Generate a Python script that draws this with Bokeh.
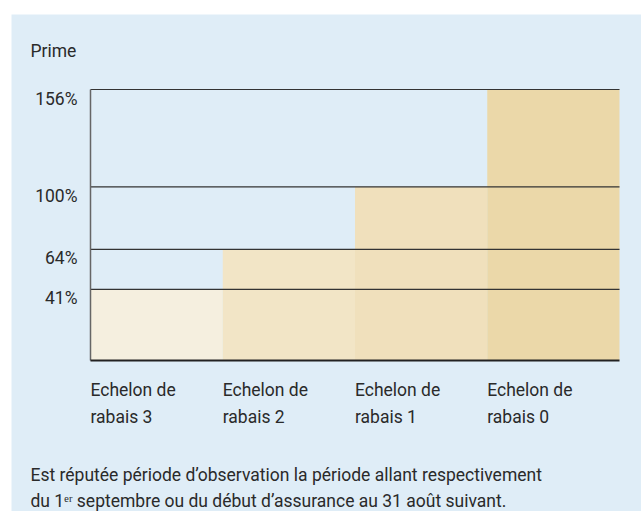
from bokeh.plotting import figure
from bokeh.models import ColumnDataSource, LabelSet, Label, Range1d
from bokeh.core.properties import value
from bokeh.embed import file_html
from bokeh.resources import INLINE

# ---- data ----
categories_line1 = ["Echelon de", "Echelon de", "Echelon de", "Echelon de"]
categories_line2 = ["rabais 3", "rabais 2", "rabais 1", "rabais 0"]
premiums = [41, 64, 100, 156]
tick_values = [41, 64, 100, 156]
tick_labels = ["41%", "64%", "100%", "156%"]
bar_colors = ["#F5EFDF", "#F2E5C6", "#F0E0BC", "#EBD8A9"]
y_title = "Prime"
note_line1 = "Est réputée période d’observation la période allant respectivement"
note_line2 = "du 1ᵉʳ septembre ou du début d’assurance au 31 août suivant."

# ---- layout (pixels inside the canvas) ----
W, H = 630, 497
PLOT_L, PLOT_R, PLOT_T, PLOT_B = 79, 608, 75, 346

FONT_NAME = "Roboto"
FS_STR = "17.5px"
FONT = value(FONT_NAME)
FS = value(FS_STR)
TXT = "#2a2a2a"
BG = "#DFEDF7"

n = len(premiums)
ymax = max(premiums)
x_left = list(range(n))
x_mid = [i + 0.5 for i in x_left]

# ranges chosen so that the chart area sits at the given pixel box and texts fit in the canvas
sx = (PLOT_R - PLOT_L) / n
sy = (PLOT_B - PLOT_T) / ymax
x_range = Range1d(-PLOT_L / sx, n + (W - PLOT_R) / sx)
y_range = Range1d(-(H - PLOT_B) / sy, ymax + PLOT_T / sy)

p = figure(width=W, height=H, output_backend="svg", toolbar_location=None,
           x_range=x_range, y_range=y_range,
           x_axis_location=None, y_axis_location=None,
           min_border_left=0, min_border_right=0, min_border_top=0, min_border_bottom=0)
p.margin = (14, 0, 0, 11)
p.background_fill_color = BG
p.border_fill_color = BG
p.outline_line_color = None
p.xgrid.visible = False
p.ygrid.visible = False

src = ColumnDataSource(dict(x=x_mid, top=premiums, color=bar_colors))
p.vbar(x="x", top="top", bottom=0, width=1.0, fill_color="color", line_color=None, source=src)

# horizontal reference lines at the premium levels
gsrc = ColumnDataSource(dict(x0=[0] * len(tick_values), x1=[n] * len(tick_values),
                             y=tick_values))
p.segment(x0="x0", x1="x1", y0="y", y1="y", source=gsrc, line_color="#333333", line_width=1.2)

# axis lines
p.segment(x0=[0], x1=[0], y0=[0], y1=[ymax], line_color="#666666", line_width=1.5)
p.segment(x0=[0], x1=[n], y0=[0], y1=[0], line_color="#222222", line_width=2)

# y tick labels
ysrc = ColumnDataSource(dict(x=[0] * len(tick_values), y=tick_values, text=tick_labels))
p.add_layout(LabelSet(x="x", y="y", text="text", source=ysrc, x_offset=-13, y_offset=-15,
                      text_align="right", text_baseline="alphabetic",
                      text_font=FONT, text_font_size=FS, text_color=TXT))

# x category labels
xsrc1 = ColumnDataSource(dict(x=x_left, y=[0] * n, text=categories_line1))
xsrc2 = ColumnDataSource(dict(x=x_left, y=[0] * n, text=categories_line2))
p.add_layout(LabelSet(x="x", y="y", text="text", source=xsrc1, x_offset=0, y_offset=-35,
                      text_align="left", text_baseline="alphabetic",
                      text_font=FONT, text_font_size=FS, text_color=TXT))
p.add_layout(LabelSet(x="x", y="y", text="text", source=xsrc2, x_offset=0, y_offset=-62,
                      text_align="left", text_baseline="alphabetic",
                      text_font=FONT, text_font_size=FS, text_color=TXT))

# title and note
p.add_layout(Label(x=0, y=ymax, text=y_title, x_offset=-60, y_offset=39,
                   text_align="left", text_baseline="alphabetic",
                   text_font=FONT_NAME, text_font_size=FS_STR, text_color=TXT))
p.add_layout(Label(x=0, y=0, text=note_line1, x_offset=-60, y_offset=-114,
                   text_align="left", text_baseline="alphabetic",
                   text_font=FONT_NAME, text_font_size=FS_STR, text_color=TXT))
p.add_layout(Label(x=0, y=0, text=note_line2, x_offset=-60, y_offset=-140,
                   text_align="left", text_baseline="alphabetic",
                   text_font=FONT_NAME, text_font_size=FS_STR, text_color=TXT))

open("out.html", "w").write(file_html(p, INLINE))
